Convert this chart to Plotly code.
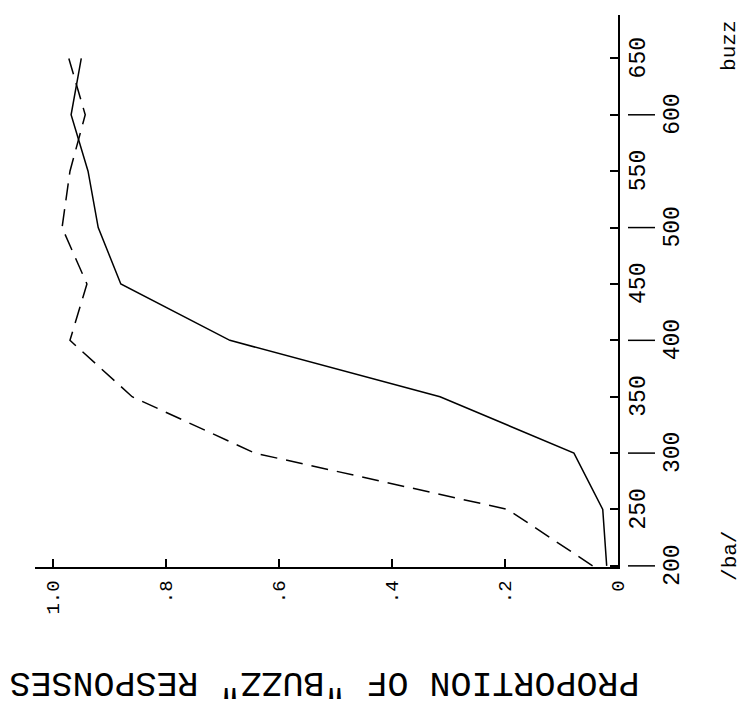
import plotly.graph_objects as go

# Stimulus values (the axis shown vertically on the right)
stimulus = [200, 250, 300, 350, 400, 450, 500, 550, 600, 650]
# Proportion of "buzz" responses, solid curve
solid_prop = [0.02, 0.027, 0.078, 0.315, 0.687, 0.88, 0.92, 0.938, 0.968, 0.95]
# Proportion of "buzz" responses, dashed curve
dashed_prop = [0.045, 0.195, 0.643, 0.86, 0.97, 0.94, 0.984, 0.97, 0.943, 0.972]

prop_ticks = [0, 0.2, 0.4, 0.6, 0.8, 1.0]
prop_ticktext = ["0", ".2", ".4", ".6", ".8", "1.0"]
stim_ticks = [200, 250, 300, 350, 400, 450, 500, 550, 600, 650]
stim_ticktext = ["200", "250", "300", "350", "400", "450", "500", "550", "600", "650"]

FONT = "Liberation Mono"

fig = go.Figure()
fig.add_trace(go.Scatter(x=solid_prop, y=stimulus, mode="lines",
                         line=dict(color="black", width=1.5), showlegend=False))
fig.add_trace(go.Scatter(x=dashed_prop, y=stimulus, mode="lines",
                         line=dict(color="black", width=1.5, dash="17px,9px"),
                         showlegend=False))

fig.update_layout(
    width=746, height=708,
    margin=dict(l=27, r=136, t=7, b=149),
    paper_bgcolor="white", plot_bgcolor="white",
    xaxis=dict(range=[1.0319, 0], showgrid=False, zeroline=False,
               showline=True, linecolor="black", linewidth=1.5,
               ticks="inside", ticklen=8, tickwidth=1.5, tickcolor="black",
               tickvals=prop_ticks, ticktext=prop_ticktext, tickangle=-90,
               ticklabelstandoff=4,
               tickfont=dict(family=FONT, size=19, color="black")),
    yaxis=dict(range=[199, 688.5], side="right", showgrid=False, zeroline=False,
               showline=True, linecolor="black", linewidth=1.5,
               ticks="inside", ticklen=8, tickwidth=1.5, tickcolor="black",
               tickvals=stim_ticks, showticklabels=False),
)

# Staggered stimulus tick labels and separate long marks at the hundreds
for v, t in zip(stim_ticks, stim_ticktext):
    hundred = (v % 100 == 0)
    fig.add_annotation(x=1, xref="paper", y=v, yref="y", text=t,
                       textangle=-90, showarrow=False,
                       xanchor="center", yanchor="middle",
                       xshift=55 if hundred else 21,
                       font=dict(family=FONT, size=23, color="black"))
    if hundred:
        fig.add_shape(type="line", xref="paper", yref="y",
                      x0=(620 - 27) / 583, x1=(647 - 27) / 583, y0=v, y1=v,
                      line=dict(color="black", width=1.5))

fig.add_annotation(x=1, xref="paper", y=0.944, yref="paper", text="buzz",
                   textangle=-90, showarrow=False, xanchor="center",
                   yanchor="middle", xshift=112,
                   font=dict(family=FONT, size=21, color="black"))
fig.add_annotation(x=1, xref="paper", y=0.02, yref="paper", text="/ba/",
                   textangle=-90, showarrow=False, xanchor="center",
                   yanchor="middle", xshift=113,
                   font=dict(family=FONT, size=21, color="black"))

fig.add_annotation(x=0.497, xref="paper", y=-0.207, yref="paper",
                   text='PROPORTION OF "BUZZ" RESPONSES', textangle=180,
                   showarrow=False, xanchor="center", yanchor="middle",
                   font=dict(family=FONT, size=35, color="black"))

fig.write_html("out.html")
